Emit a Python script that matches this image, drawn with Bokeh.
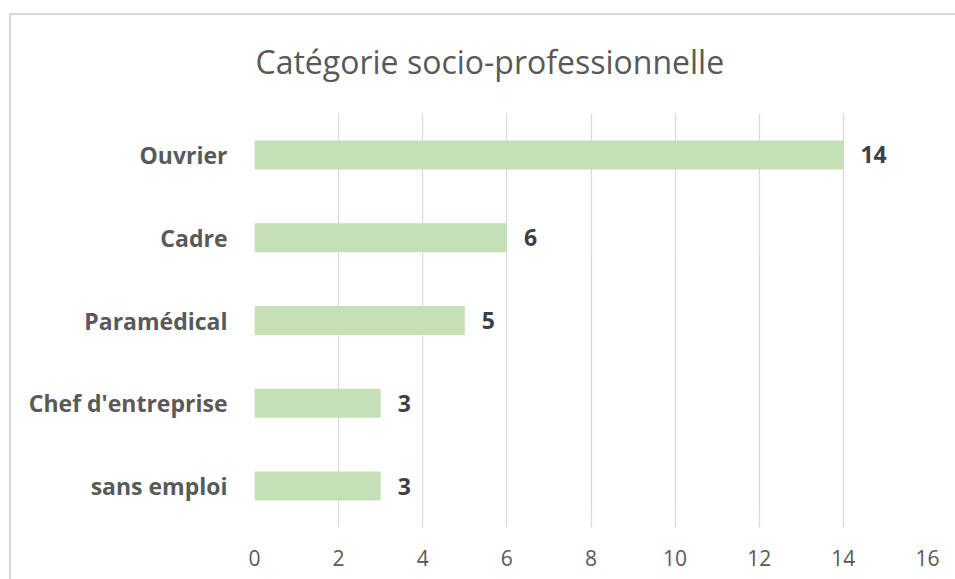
from bokeh.plotting import figure
from bokeh.models import FactorRange, Range1d, ColumnDataSource, FixedTicker
from bokeh.core.properties import value
from bokeh.embed import file_html
from bokeh.resources import INLINE

# Data (top to bottom in the reference)
categories = ["Ouvrier", "Cadre", "Paramédical", "Chef d'entreprise", "sans emploi"]
counts = [14, 6, 5, 3, 3]
x_ticks = [0, 2, 4, 6, 8, 10, 12, 14, 16]
title_text = "Catégorie socio-professionnelle"

FONT = "Open Sans"
GRAY = "#595959"

src = ColumnDataSource(dict(cat=categories, n=counts, lbl=[str(v) for v in counts]))

p = figure(
    width=955, height=579,
    y_range=FactorRange(factors=list(reversed(categories))),
    x_range=Range1d(0, 16),
    output_backend="svg", toolbar_location=None,
    min_border_left=254, min_border_right=28,
    min_border_top=113, min_border_bottom=52,
)
p.outline_line_color = None
p.background_fill_color = "white"
p.border_fill_color = None
# outer chart border (only left and top edges are visible in the crop)
p.styles = {
    "background": (
        "linear-gradient(#d9d9d9,#d9d9d9) 9px 13px / 2px 100% no-repeat, "
        "linear-gradient(#d9d9d9,#d9d9d9) 9px 13px / 100% 2px no-repeat, white"
    )
}

p.title.text = title_text
p.title.text_font = FONT
p.title.text_font_size = "32px"
p.title.text_font_style = "normal"
p.title.text_color = GRAY
p.title.align = "left"
p.title.offset = 1
p.title.standoff = 62

p.hbar(y="cat", right="n", left=0, height=0.35, source=src,
       fill_color="#C5E0B4", line_color=None)

p.text(x="n", y="cat", text="lbl", source=src, x_offset=17,
       text_baseline="middle", text_align="left",
       text_font=value(FONT), text_font_size="23px",
       text_font_style="bold", text_color="#404040")

# grid
p.ygrid.grid_line_color = None
p.xgrid.grid_line_color = "#d9d9d9"
p.xgrid.grid_line_width = 1.3
p.xaxis.ticker = FixedTicker(ticks=x_ticks)

# axes
for ax in (p.xaxis, p.yaxis):
    ax.axis_line_color = None
    ax.major_tick_line_color = None
    ax.minor_tick_line_color = None
    ax.major_tick_out = 0
    ax.major_tick_in = 0
    ax.major_label_text_font = FONT
    ax.major_label_text_color = GRAY

p.xaxis.major_label_text_font_size = "21px"
p.xaxis.major_label_standoff = 22
p.yaxis.major_label_text_font_size = "23px"
p.yaxis.major_label_text_font_style = "bold"
p.yaxis.major_label_standoff = 27

open("out.html", "w").write(file_html(p, INLINE))
